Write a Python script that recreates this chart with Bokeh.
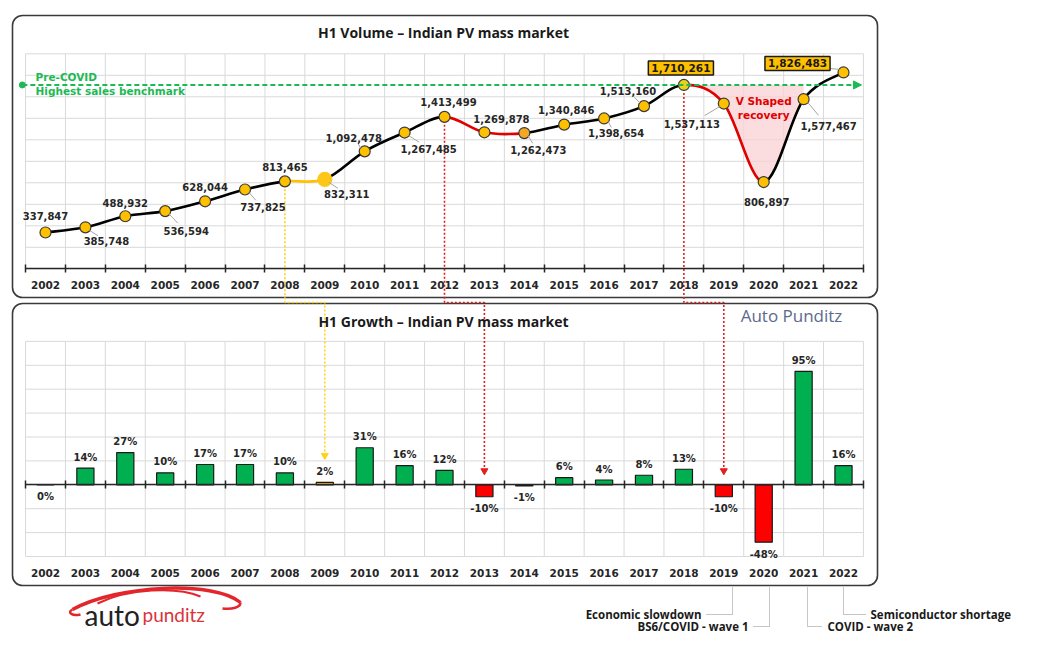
import numpy as np
from bokeh.plotting import figure
from bokeh.models import Range1d, LinearAxis, FixedTicker, Label, Arrow, NormalHead
from bokeh.core.properties import value
from bokeh.embed import file_html
from bokeh.resources import INLINE

# ---------------- data ----------------
YEARS = [2002, 2003, 2004, 2005, 2006, 2007, 2008, 2009, 2010, 2011, 2012,
         2013, 2014, 2015, 2016, 2017, 2018, 2019, 2020, 2021, 2022]
VOLUME = [337847, 385748, 488932, 536594, 628044, 737825, 813465, 832311,
          1092478, 1267485, 1413499, 1269878, 1262473, 1340846, 1398654,
          1513160, 1710261, 1537113, 806897, 1577467, 1826483]
GROWTH = [0, 14, 27, 10, 17, 17, 10, 2, 31, 16, 12, -10, -1, 6, 4, 8, 13,
          -10, -48, 95, 16]
VOL_TICKS = [0, 200000, 400000, 600000, 800000, 1000000, 1200000, 1400000,
             1600000, 1800000, 2000000]
GROWTH_TICKS = [-60, -40, -20, 0, 20, 40, 60, 80, 100, 120]
BENCHMARK = 1710261
HIGHLIGHT_YEARS = [2018, 2022]
TITLE_TOP = "H1 Volume – Indian PV mass market"
TITLE_BOTTOM = "H1 Growth – Indian PV mass market"
EVENTS = ["Economic slowdown", "BS6/COVID - wave 1", "COVID - wave 2", "Semiconductor shortage"]
EVENT_YEARS = [2019, 2020, 2021, 2022]
# connectors (volume point year -> growth bar year)
LINKS = [(2008, 2009), (2012, 2013), (2018, 2019)]

# ---------------- geometry / style ----------------
W, H = 1021, 634
PXY = 39.9                      # px per year
X0 = 2002 - 45.0 / PXY
X1 = X0 + W / PXY
VZ, VPX = 268.3, 215.0 / 2000000   # canvas y of 0 volume, px per unit
GZ, GPX = 484.3, 1.195              # canvas y of 0 growth, px per %


def vy(v):
    return VZ - v * VPX


def gy(g):
    return GZ - g * GPX


BOUNDS = [y - 0.5 for y in YEARS] + [YEARS[-1] + 0.5]
GRID = "#D9D9D9"
DARK = "#262626"
GOLD = "#FFC000"
RED = "#E00000"
GREEN = "#00B050"
BENCH_GREEN = "#1DB954"

p = figure(width=W, height=H, x_range=Range1d(X0, X1), y_range=Range1d(H, 0),
           output_backend="svg", toolbar_location=None, min_border=0,
           x_axis_type=None, y_axis_type=None)
p.extra_y_ranges = {"vol": Range1d(-(H - VZ) / VPX, VZ / VPX),
                    "gr": Range1d(-(H - GZ) / GPX, GZ / GPX)}
p.extra_x_ranges = {"px": Range1d(0, W)}
p.outline_line_color = None
p.background_fill_color = "white"
p.border_fill_color = "white"

# ---------------- panels ----------------
p.quad(left=[12, 12], right=[877, 877], top=[15, 303], bottom=[297, 585],
       x_range_name="px", fill_color="white", line_color="#3A3A3A",
       line_width=1.6, border_radius=10)

# ---------------- grids ----------------
p.segment(x0=BOUNDS, x1=BOUNDS, y0=[VOL_TICKS[0]] * len(BOUNDS), y1=[VOL_TICKS[-1]] * len(BOUNDS),
          y_range_name="vol", line_color=GRID, line_width=1)
p.segment(x0=[BOUNDS[0]] * len(VOL_TICKS), x1=[BOUNDS[-1]] * len(VOL_TICKS), y0=VOL_TICKS, y1=VOL_TICKS,
          y_range_name="vol", line_color=GRID, line_width=1)
p.segment(x0=BOUNDS, x1=BOUNDS, y0=[GROWTH_TICKS[0]] * len(BOUNDS), y1=[GROWTH_TICKS[-1]] * len(BOUNDS),
          y_range_name="gr", line_color=GRID, line_width=1)
p.segment(x0=[BOUNDS[0]] * len(GROWTH_TICKS), x1=[BOUNDS[-1]] * len(GROWTH_TICKS), y0=GROWTH_TICKS, y1=GROWTH_TICKS,
          y_range_name="gr", line_color=GRID, line_width=1)

# ---------------- smoothed line (bezier through the data points) ----------------
xs = np.array(YEARS, dtype=float)
vs = np.array(VOLUME, dtype=float)


def tangents(a):
    prev = np.concatenate([[a[0]], a[:-1]])
    nxt = np.concatenate([a[1:], [a[-1]]])
    return (nxt - prev) / 6.0


tx, tv = tangents(xs), tangents(vs)
bx0, bx1 = xs[:-1], xs[1:]
by0, by1 = vs[:-1], vs[1:]
cx0, cy0 = xs[:-1] + tx[:-1], vs[:-1] + tv[:-1]
cx1, cy1 = xs[1:] - tx[1:], vs[1:] - tv[1:]

seg_colors = ["#000000"] * (len(YEARS) - 1)
seg_colors[YEARS.index(2008)] = GOLD
for yr in (2012, 2013, 2018, 2019):
    seg_colors[YEARS.index(yr)] = RED

# pink "V shaped recovery" area between curve and benchmark
t = np.linspace(0, 1, 40)
px_, py_ = [], []
for i in range(YEARS.index(2018), YEARS.index(2021)):
    bx = (1 - t) ** 3 * bx0[i] + 3 * (1 - t) ** 2 * t * cx0[i] + 3 * (1 - t) * t ** 2 * cx1[i] + t ** 3 * bx1[i]
    bv = (1 - t) ** 3 * by0[i] + 3 * (1 - t) ** 2 * t * cy0[i] + 3 * (1 - t) * t ** 2 * cy1[i] + t ** 3 * by1[i]
    px_.extend(bx.tolist())
    py_.extend(bv.tolist())
py_ = np.minimum(np.array(py_), BENCHMARK)
p.varea(x=px_, y1=py_.tolist(), y2=[BENCHMARK] * len(px_), y_range_name="vol",
        fill_color="#FAD2D4", fill_alpha=0.75)

# benchmark
p.scatter(x=[BOUNDS[0] - 0.08], y=[BENCHMARK], size=6, color=BENCH_GREEN, y_range_name="vol")
p.add_layout(Arrow(end=NormalHead(size=8, fill_color=BENCH_GREEN, line_color=BENCH_GREEN, line_width=1),
                   x_start=BOUNDS[0] - 0.08, y_start=BENCHMARK, x_end=BOUNDS[-1] - 0.05, y_end=BENCHMARK,
                   y_range_name="vol", line_color=BENCH_GREEN, line_width=2, line_dash="5 3"))
p.text(x=[BOUNDS[0] + 0.25] * 2, y=[BENCHMARK + 8 / VPX, BENCHMARK - 6 / VPX],
       text=["Pre-COVID", "Highest sales benchmark"], y_range_name="vol",
       text_font=value("DejaVu Sans"), text_font_style="bold", text_font_size="10.5px",
       text_color=BENCH_GREEN, text_align="left", text_baseline="middle")

p.bezier(x0=bx0, y0=by0, x1=bx1, y1=by1, cx0=cx0, cy0=cy0, cx1=cx1, cy1=cy1,
         line_color=seg_colors, line_width=2.6, y_range_name="vol")

# ---------------- connectors between panels ----------------
GAP_Y = 302
for (a, b) in LINKS:
    col = "#FFD21F" if a == 2008 else "#E41E1E"
    gb = GROWTH[YEARS.index(b)]
    tip = gy(max(gb, 0)) - (27 if gb > 0 else 14)
    p.line(x=[a, a, b, b], y=[vy(VOLUME[YEARS.index(a)]), GAP_Y, GAP_Y, tip],
           line_color=col, line_width=1.6, line_dash="2 2")
    p.scatter(x=[b], y=[tip], marker="inverted_triangle", size=7, color=col)

# ---------------- markers ----------------
m_fill = [GOLD] * len(YEARS)
m_line = ["#3A3A3A"] * len(YEARS)
m_size = [11] * len(YEARS)
m_fill[YEARS.index(2009)] = "#FFC61A"
m_line[YEARS.index(2009)] = "#FFC61A"
m_size[YEARS.index(2009)] = 14
m_fill[YEARS.index(2014)] = "#F5A623"
m_fill[YEARS.index(2018)] = "#E8D21A"
p.scatter(x=YEARS, y=VOLUME, size=m_size, fill_color=m_fill, line_color=m_line,
          line_width=1.2, y_range_name="vol")

# ---------------- volume labels ----------------
OFF = [(0, -16), (21, 14), (0, -13), (21, 20), (0, -14), (18, 18), (0, -14), (22, 15),
       (-11, -13), (24, 16), (4, -15), (17, -13), (14, 17), (2, -15), (12, 15),
       (-16, -15), (-3, -17), (-32, 20), (3, 20), (25, 27), (-46, -9)]
LEADER = [0, 1, 0, 1, 0, 1, 0, 1, 1, 1, 0, 0, 1, 0, 1, 1, 0, 1, 0, 1, 1]

lx0, ly0, lx1, ly1 = [], [], [], []
for i, (dx, dy) in enumerate(OFF):
    if LEADER[i]:
        lx0.append(YEARS[i] + np.sign(dx) * 4 / PXY)
        ly0.append(VOLUME[i] - np.sign(dy) * 3 / VPX)
        lx1.append(YEARS[i] + 0.6 * dx / PXY)
        ly1.append(VOLUME[i] - 0.6 * dy / VPX)
p.segment(x0=lx0, y0=ly0, x1=lx1, y1=ly1, y_range_name="vol", line_color="#A6A6A6", line_width=1)

tx_, ty_, tt_ = [], [], []
for i, (dx, dy) in enumerate(OFF):
    if YEARS[i] in HIGHLIGHT_YEARS:
        continue
    tx_.append(YEARS[i] + dx / PXY)
    ty_.append(VOLUME[i] - dy / VPX)
    tt_.append(f"{VOLUME[i]:,}")
p.text(x=tx_, y=ty_, text=tt_, y_range_name="vol", text_font=value("DejaVu Sans"),
       text_font_style="bold", text_font_size="10px", text_color=DARK,
       text_align="center", text_baseline="middle")

for yr in HIGHLIGHT_YEARS:
    i = YEARS.index(yr)
    dx, dy = OFF[i]
    p.add_layout(Label(x=YEARS[i] + dx / PXY, y=VOLUME[i] - dy / VPX, y_range_name="vol",
                       text=f"{VOLUME[i]:,}", text_font="DejaVu Sans", text_font_style="bold",
                       text_font_size="10.5px", text_color="#1A1A1A", text_align="center",
                       text_baseline="middle", background_fill_color=GOLD,
                       border_line_color="#1A1A1A", border_line_width=1.5, padding=3))

p.text(x=[2020.0, 2020.0], y=[BENCHMARK - 16 / VPX, BENCHMARK - 30 / VPX],
       text=["V Shaped", "recovery"], y_range_name="vol", text_font=value("DejaVu Sans"),
       text_font_style="bold", text_font_size="10.5px", text_color=RED,
       text_align="center", text_baseline="middle")

# ---------------- growth bars ----------------
bar_colors = [GREEN if g >= 0 else "#FF0000" for g in GROWTH]
bar_colors[YEARS.index(2009)] = GOLD
p.vbar(x=YEARS, top=GROWTH, bottom=0, width=0.43, fill_color=bar_colors,
       line_color="#1A1A1A", line_width=1.2, y_range_name="gr")
p.text(x=YEARS, y=[g + 11 / GPX if g > 0 else g - 12 / GPX for g in GROWTH],
       text=[f"{g}%" for g in GROWTH], y_range_name="gr", text_font=value("DejaVu Sans"),
       text_font_style="bold", text_font_size="10px", text_color=DARK,
       text_align="center", text_baseline="middle")

# ---------------- axes ----------------
def style_axis(ax, labels=True, line=True, minor=True, standoff=8):
    ax.bounds = (BOUNDS[0], BOUNDS[-1])
    ax.major_tick_line_color = None
    ax.major_tick_in = 0
    ax.major_tick_out = 0
    ax.minor_tick_line_color = DARK if minor else None
    ax.minor_tick_in = 4
    ax.minor_tick_out = 4
    ax.minor_tick_line_width = 1.5
    ax.axis_line_color = DARK if line else None
    ax.axis_line_width = 1.5
    ax.major_label_text_font = "DejaVu Sans"
    ax.major_label_text_font_style = "bold"
    ax.major_label_text_font_size = "10.5px"
    ax.major_label_text_color = DARK if labels else None
    ax.major_label_standoff = standoff


ax_top = LinearAxis(y_range_name="vol", fixed_location=0,
                    ticker=FixedTicker(ticks=YEARS, minor_ticks=BOUNDS))
style_axis(ax_top)
p.add_layout(ax_top, "below")

ax_zero = LinearAxis(y_range_name="gr", fixed_location=0,
                     ticker=FixedTicker(ticks=[], minor_ticks=BOUNDS))
style_axis(ax_zero, labels=False)
p.add_layout(ax_zero, "below")

ax_bot = LinearAxis(y_range_name="gr", fixed_location=GROWTH_TICKS[0],
                    ticker=FixedTicker(ticks=YEARS))
style_axis(ax_bot, line=False, minor=False, standoff=12)
p.add_layout(ax_bot, "below")

# ---------------- titles & texts (canvas px) ----------------
p.text(x=[443, 443], y=[32, 321], text=[TITLE_TOP, TITLE_BOTTOM], x_range_name="px",
       text_font=value("Open Sans"), text_font_style="bold", text_font_size="14px",
       text_color="#1A1A1A", text_align="center", text_baseline="middle")
p.text(x=[791], y=[315], text=["Auto Punditz"], x_range_name="px",
       text_font=value("Open Sans"), text_font_size="17px", text_color="#5B6A8E",
       text_align="center", text_baseline="middle")

# event annotations below
EV_X = [732, 769, 807, 843]
EV_Y = [614, 626, 626, 614]
EV_END = [706, 753, 822, 865]
for i, ev in enumerate(EVENTS):
    p.line(x=[EV_X[i], EV_X[i], EV_END[i]], y=[587, EV_Y[i], EV_Y[i]], x_range_name="px",
           line_color="#8C8C8C", line_width=1, line_dash="1 1")
    left = EV_END[i] > EV_X[i]
    p.text(x=[EV_END[i] + (5 if left else -5)], y=[EV_Y[i]], text=[ev], x_range_name="px",
           text_font=value("Open Sans"), text_font_style="bold", text_font_size="11.5px",
           text_color="#1A1A1A", text_align="left" if left else "right", text_baseline="middle")

# logo
CAR = "#E3262B"
p.bezier(x0=[72, 97, 240, 72], y0=[609, 603, 602, 609], x1=[240, 200, 222, 80], y1=[602, 596, 608, 614],
         cx0=[118, 128, 240, 66], cy0=[584, 588, 607, 612], cx1=[213, 176, 232, 72], cy1=[580, 586, 609, 616],
         x_range_name="px", line_color=CAR, line_width=[3.5, 2, 2.5, 2.5])
p.text(x=[84], y=[614], text=["auto"], x_range_name="px", text_font=value("Lato"),
       text_font_size="28px", text_color="#222222", text_align="left", text_baseline="alphabetic")
p.text(x=[142], y=[614], text=["punditz"], x_range_name="px", text_font=value("Lato"),
       text_font_size="19px", text_color="#D8343A", text_align="left", text_baseline="alphabetic")

open("out.html", "w").write(file_html(p, INLINE))
